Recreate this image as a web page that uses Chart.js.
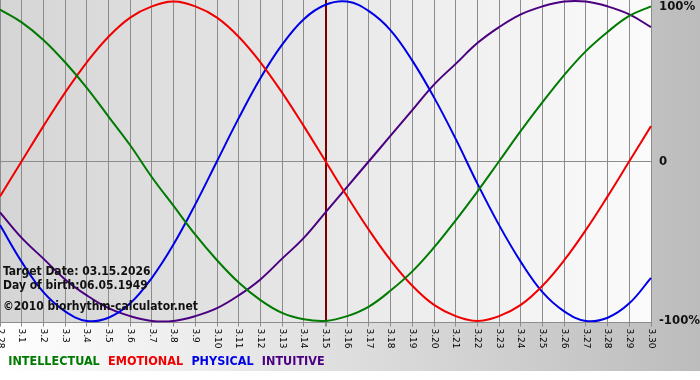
<!DOCTYPE html>
<html>
<head>
<meta charset="utf-8">
<script src="https://cdn.jsdelivr.net/npm/chart.js@4/dist/chart.umd.min.js"></script>
<style>
  html, body { margin: 0; padding: 0; background: #fff; }
  #wrap { width: 700px; height: 380px; }
</style>
</head>
<body>
<div id="wrap"><canvas id="chart" width="700" height="380"></canvas></div>
<script>
const days = ['2.28', '3.1', '3.2', '3.3', '3.4', '3.5', '3.6', '3.7', '3.8', '3.9', '3.10',
  '3.11', '3.12', '3.13', '3.14', '3.15', '3.16', '3.17', '3.18', '3.19', '3.20',
  '3.21', '3.22', '3.23', '3.24', '3.25', '3.26', '3.27', '3.28', '3.29', '3.30'];

const intellectual = [0.95, 0.87, 0.76, 0.62, 0.46, 0.28, 0.10, -0.10, -0.28, -0.46, -0.62,
  -0.76, -0.87, -0.95, -0.99, -1.00, -0.97, -0.91, -0.81, -0.69, -0.54,
  -0.37, -0.19, 0.00, 0.19, 0.37, 0.54, 0.69, 0.81, 0.91, 0.97];
const emotional = [-0.22, 0.00, 0.22, 0.43, 0.62, 0.78, 0.90, 0.97, 1.00, 0.97, 0.90,
  0.78, 0.62, 0.43, 0.22, 0.00, -0.22, -0.43, -0.62, -0.78, -0.90,
  -0.97, -1.00, -0.97, -0.90, -0.78, -0.62, -0.43, -0.22, 0.00, 0.22];
const physical = [-0.40, -0.63, -0.82, -0.94, -1.00, -0.98, -0.89, -0.73, -0.52, -0.27, 0.00,
  0.27, 0.52, 0.73, 0.89, 0.98, 1.00, 0.94, 0.82, 0.63, 0.40,
  0.14, -0.14, -0.40, -0.63, -0.82, -0.94, -1.00, -0.98, -0.89, -0.73];
const intuitive = [-0.32, -0.48, -0.61, -0.74, -0.84, -0.92, -0.97, -1.00, -1.00, -0.97, -0.92,
  -0.84, -0.74, -0.61, -0.48, -0.32, -0.16, 0.00, 0.16, 0.32, 0.48,
  0.61, 0.74, 0.84, 0.92, 0.97, 1.00, 1.00, 0.97, 0.92, 0.84];

const yTicks = [-1, 0, 1];
const yLabels = { '-1': '-100%', '0': '0', '1': '100%' };
const targetIndex = 15;
const notes = ['Target Date: 03.15.2026', 'Day of birth:06.05.1949', '\u00a92010 biorhythm-calculator.net'];

const FONT = "'DejaVu Sans Condensed', 'DejaVu Sans', sans-serif";

const series = [
  { label: 'INTELLECTUAL', data: intellectual, color: '#007a00' },
  { label: 'EMOTIONAL', data: emotional, color: '#f00000' },
  { label: 'PHYSICAL', data: physical, color: '#0000e6' },
  { label: 'INTUITIVE', data: intuitive, color: '#4b0082' }
];

const backdrop = {
  id: 'backdrop',
  beforeDraw(chart) {
    const { ctx, chartArea: a } = chart;
    ctx.save();
    let g = ctx.createLinearGradient(0, 0, 700, 0);
    g.addColorStop(0, '#ffffff');
    g.addColorStop(1, '#bcbcbc');
    ctx.fillStyle = g;
    ctx.fillRect(0, 0, 700, 371);
    ctx.fillStyle = '#ffffff';
    ctx.fillRect(0, 371, 700, 9);
    g = ctx.createLinearGradient(a.left, 0, a.right, 0);
    g.addColorStop(0, '#d5d5d5');
    g.addColorStop(1, '#fbfbfb');
    ctx.fillStyle = g;
    ctx.fillRect(a.left, a.top, a.right - a.left, a.bottom - a.top);
    ctx.restore();
  },
  afterDraw(chart) {
    const { ctx } = chart;
    const x = chart.scales.x;
    const y = chart.scales.y;
    ctx.save();
    // day labels, turned clockwise and hanging below the tick marks
    ctx.fillStyle = '#000';
    ctx.font = "9px 'DejaVu Sans', sans-serif";
    ctx.textAlign = 'left';
    ctx.textBaseline = 'middle';
    days.forEach((d, i) => {
      ctx.save();
      ctx.translate(x.getPixelForTick(i), x.top + 6);
      ctx.rotate(Math.PI / 2);
      ctx.fillText(d, 0, 0);
      ctx.restore();
    });
    // percent labels on the right, the top one kept inside the canvas
    ctx.fillStyle = '#111';
    ctx.font = 'bold 13px ' + FONT;
    yTicks.forEach(v => {
      const py = Math.max(y.getPixelForValue(v), 7);
      ctx.fillText(yLabels[String(v)], y.left + 8, py);
    });
    ctx.font = 'bold 12px ' + FONT;
    ctx.fillText(notes[0], 3, 272);
    ctx.fillText(notes[1], 3, 286);
    ctx.fillText(notes[2], 3, 307);
    ctx.restore();
  }
};

new Chart(document.getElementById('chart'), {
  type: 'line',
  data: {
    labels: days,
    datasets: series.map(s => ({
      label: s.label,
      data: s.data,
      borderColor: s.color,
      backgroundColor: s.color,
      borderWidth: 2,
      pointRadius: 0,
      tension: 0.4,
      fill: false
    }))
  },
  options: {
    responsive: false,
    animation: false,
    layout: { padding: { left: 0, right: 0, top: 0, bottom: 2 } },
    plugins: {
      tooltip: { enabled: false },
      legend: {
        position: 'bottom',
        align: 'start',
        labels: {
          boxWidth: 0,
          boxHeight: 0,
          padding: 2,
          font: { family: FONT, size: 12.5, weight: 'bold' },
          generateLabels: chart => chart.data.datasets.map((ds, i) => ({
            text: ds.label,
            fontColor: ds.borderColor,
            fillStyle: 'rgba(0,0,0,0)',
            strokeStyle: 'rgba(0,0,0,0)',
            lineWidth: 0,
            hidden: false,
            datasetIndex: i
          }))
        }
      }
    },
    scales: {
      x: {
        offset: false,
        grid: {
          color: ctx => ctx.index === targetIndex ? '#7a0000' : '#8c8c8c',
          lineWidth: ctx => ctx.index === targetIndex ? 2 : 1,
          tickColor: '#8c8c8c',
          tickLength: 4,
          drawTicks: true
        },
        border: { display: true, color: '#8c8c8c' },
        ticks: {
          color: 'rgba(0,0,0,0)',
          autoSkip: false,
          minRotation: 90,
          maxRotation: 90,
          font: { size: 9 }
        },
        afterFit(s) {
          s.height = 31;
          s.paddingLeft = 0;
          s.paddingRight = 0;
        }
      },
      y: {
        position: 'right',
        min: -1.01,
        max: 1.01,
        afterBuildTicks(s) {
          s.ticks = yTicks.map(v => ({ value: v }));
        },
        grid: {
          color: ctx => ctx.tick && ctx.tick.value === 0 ? '#8c8c8c' : 'rgba(0,0,0,0)',
          drawTicks: false
        },
        border: { display: false },
        ticks: {
          padding: 8,
          color: 'rgba(0,0,0,0)',
          font: { family: FONT, size: 13, weight: 'bold' },
          callback: v => yLabels[String(v)]
        },
        afterFit(s) {
          s.width = 49;
          s.paddingTop = 0;
          s.paddingBottom = 0;
        }
      }
    }
  },
  plugins: [backdrop]
});
</script>
</body>
</html>
